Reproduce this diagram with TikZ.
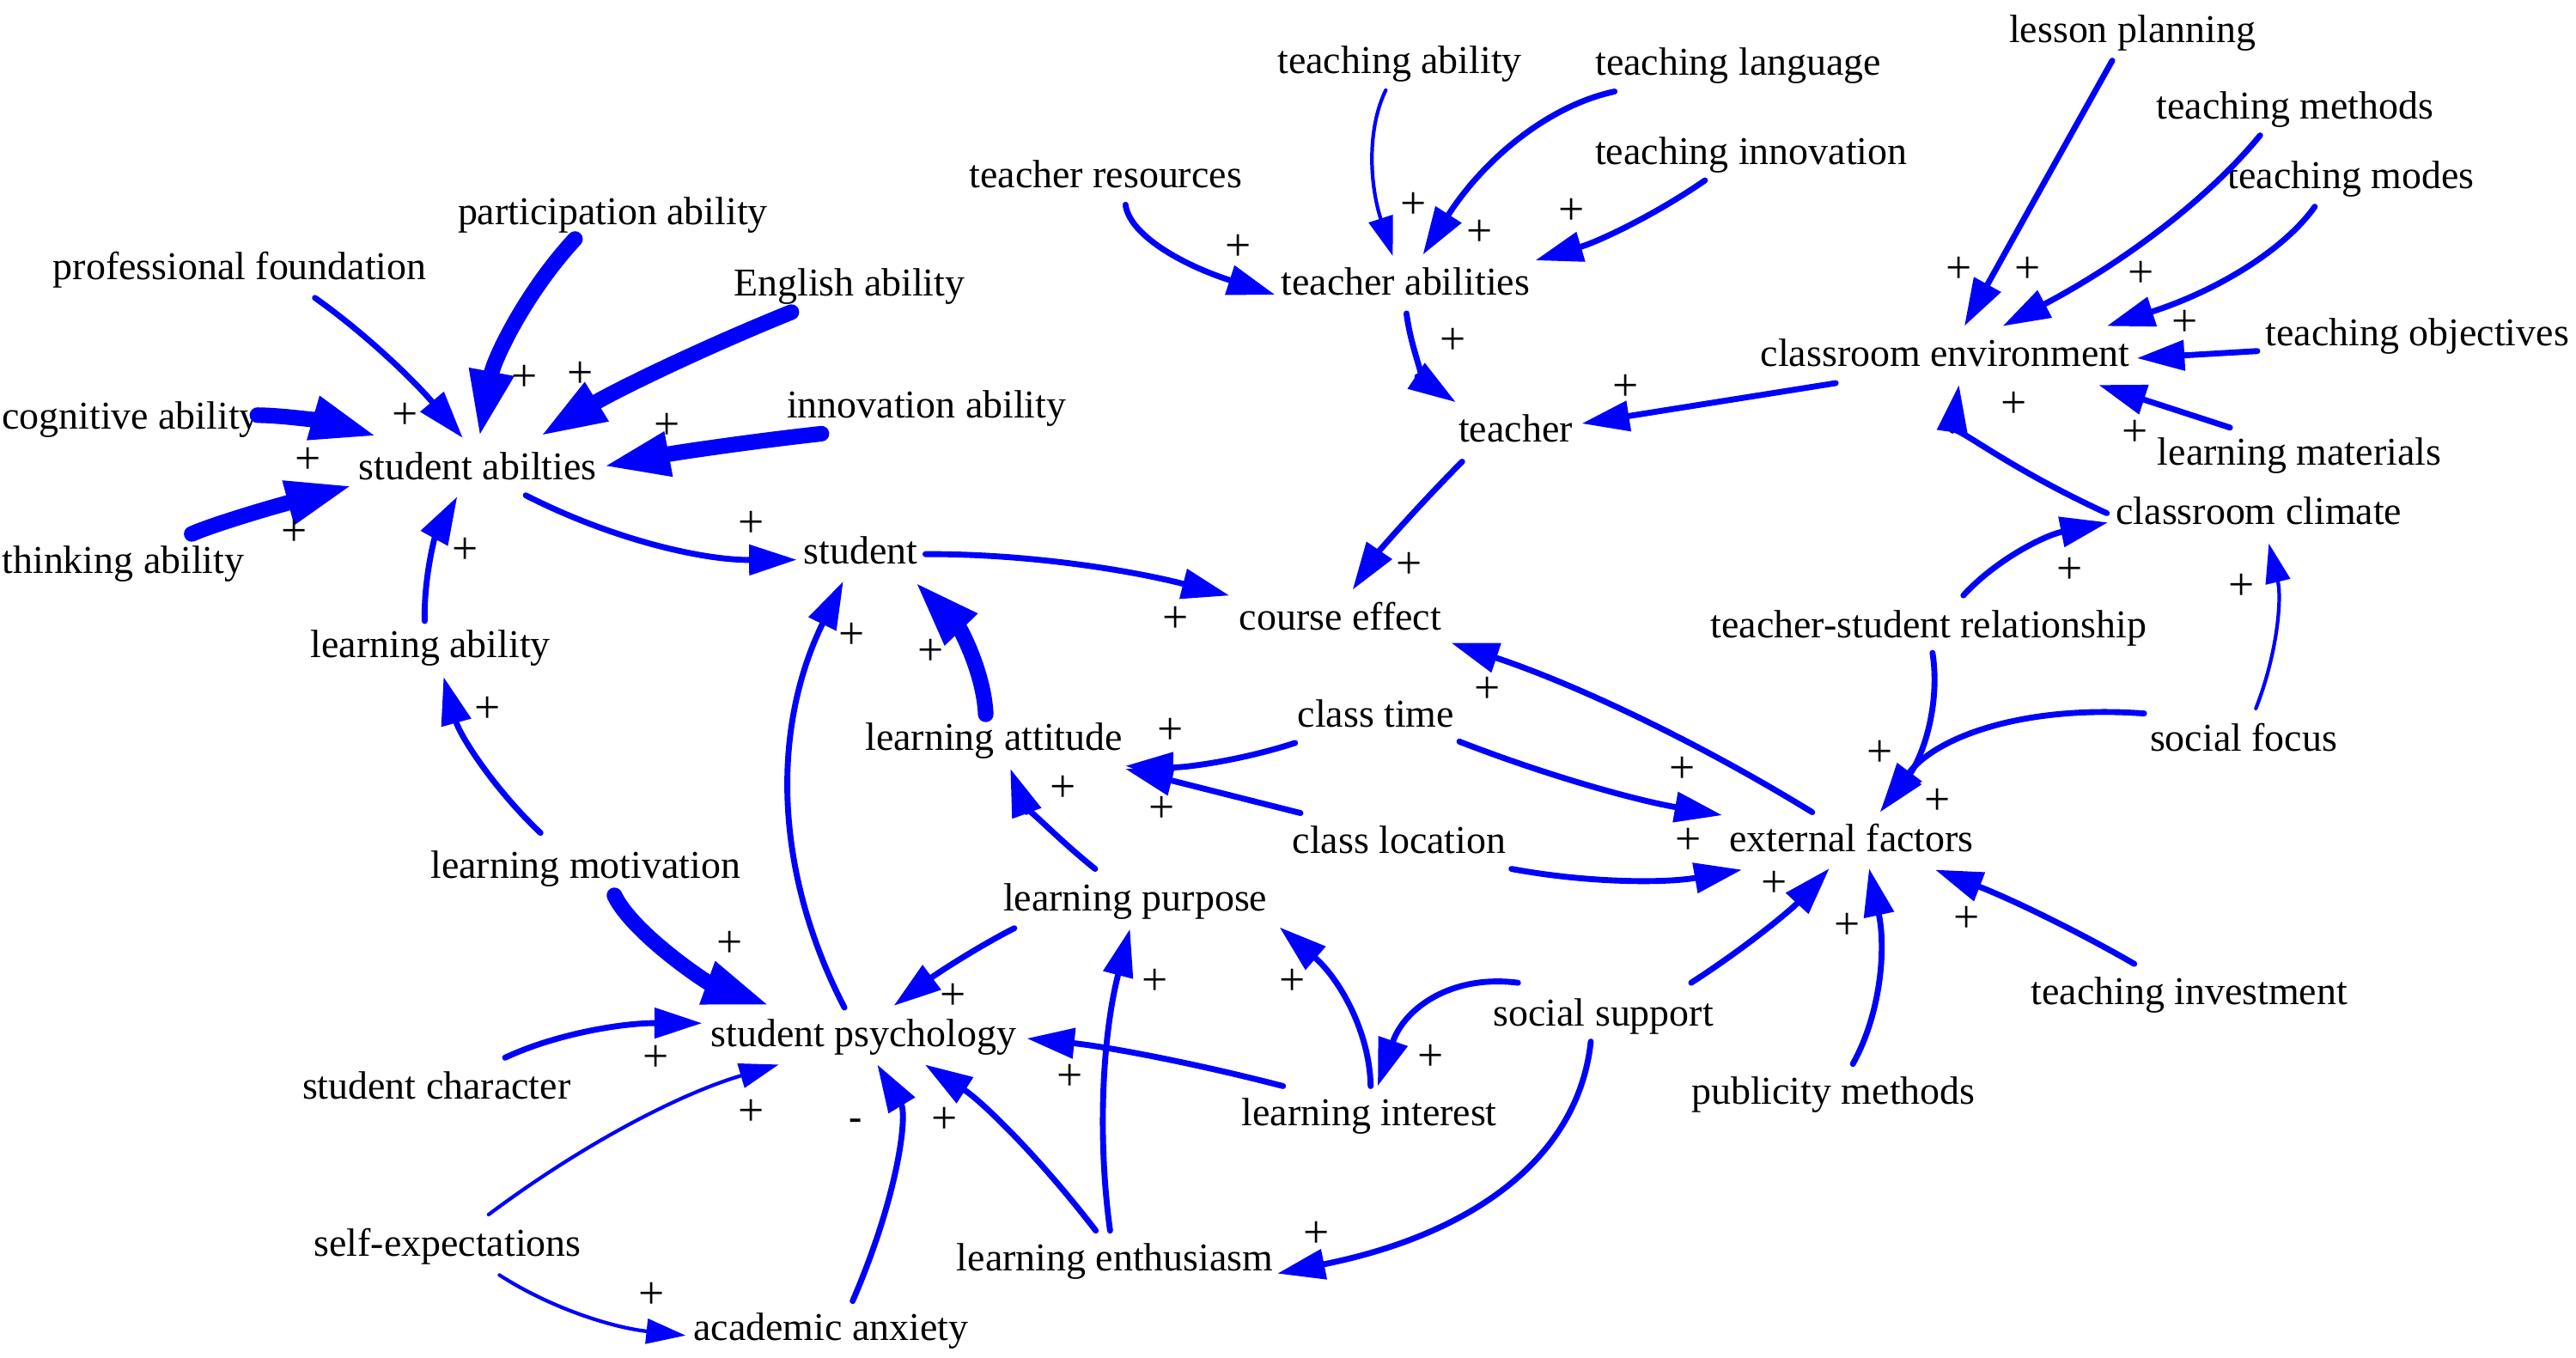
\documentclass[tikz,border=0pt]{standalone}
\usepackage{fontspec}
\setmainfont{Liberation Serif}
\usetikzlibrary{arrows.meta,calc}
\definecolor{lkblue}{RGB}{0,0,255}
\tikzset{
  lab/.style={font=\fontsize{24}{28}\selectfont, inner sep=0pt, anchor=base},
  sgn/.style={font=\fontsize{28}{32}\selectfont, inner sep=0pt},
  lk/.style={draw=lkblue, line cap=round},
  thinl/.style={lk, line width=2.2pt, -{Triangle[length=24pt,width=15pt]}},
  medl/.style={lk, line width=3.6pt, -{Triangle[length=29pt,width=18pt]}},
  thickl/.style={lk, line width=9.5pt, -{Triangle[length=41pt,width=25pt]}}
}
\begin{document}
\begin{tikzpicture}[x=1pt,y=-1pt]
\useasboundingbox (0,0) rectangle (1568,826.1);
% nodes
\node[lab] (lp) at (1298,26) {lesson planning};
\node[lab] (tab) at (852,44.5) {teaching ability};
\node[lab] (tl) at (1058,46) {teaching language};
\node[lab] (tm) at (1397,72.5) {teaching methods};
\node[lab] (ti) at (1066,100) {teaching innovation};
\node[lab] (tr) at (673,114) {teacher resources};
\node[lab] (tmo) at (1431,115) {teaching modes};
\node[lab] (pa) at (373,136.5) {participation ability};
\node[lab] (pf) at (146,170) {professional foundation};
\node[lab] (tea) at (855.5,179.5) {teacher abilities};
\node[lab] (ea) at (517,180) {English ability};
\node[lab] (to) at (1471.4,210.4) {teaching objectives};
\node[lab] (ce) at (1184,223) {classroom environment};
\node[lab] (ia) at (564,254.5) {innovation ability};
\node[lab] (ca) at (79.5,261.4) {cognitive ability};
\node[lab] (t) at (922.5,269) {teacher};
\node[lab] (lm) at (1399.6,283) {learning materials};
\node[lab] (sa) at (290.8,292) {student abilties};
\node[lab] (cc) at (1375,319) {classroom climate};
\node[lab] (tha) at (75,349) {thinking ability};
\node[lab] (st) at (524,343) {student};
\node[lab] (coe) at (815.8,383.4) {course effect};
\node[lab] (tsr) at (1174,388) {teacher-student relationship};
\node[lab] (la) at (262,400) {learning ability};
\node[lab] (ct) at (837.5,442.6) {class time};
\node[lab] (lat) at (605,456.6) {learning attitude};
\node[lab] (sf) at (1365.7,457) {social focus};
\node[lab] (cl) at (851.7,519.3) {class location};
\node[lab] (ef) at (1127,518.4) {external factors};
\node[lab] (lmo) at (356.4,534.5) {learning motivation};
\node[lab] (lpu) at (691,554.7) {learning purpose};
\node[lab] (tinv) at (1332.6,611.2) {teaching investment};
\node[lab] (ss) at (976,624.3) {social support};
\node[lab] (sp) at (525.7,637) {student psychology};
\node[lab] (sc) at (265.7,669) {student character};
\node[lab] (pm) at (1115.9,672.1) {publicity methods};
\node[lab] (li) at (833.5,685.3) {learning interest};
\node[lab] (se) at (272.4,764.6) {self-expectations};
\node[lab] (le) at (678.7,773.3) {learning enthusiasm};
\node[lab] (aa) at (505.7,816) {academic anxiety};
% connectors
\draw[medl] ($(lp.base)+(-12.3,10.9)$) .. controls (1262.4,78.5) and (1232.4,132.4) .. ($(ce.base)+(11.7,-24.5)$);
\draw[medl] ($(tm.base)+(-21.3,9.9)$) .. controls (1343.5,121.8) and (1291.3,160.5) .. ($(ce.base)+(35,-24.5)$);
\draw[medl] ($(tmo.base)+(-22,10.8)$) .. controls (1389.1,153.7) and (1346.9,177.9) .. ($(ce.base)+(98.4,-24.5)$);
\draw[medl] ($(to.base)+(-97.4,3.3)$) -- ($(ce.base)+(116.7,-5)$);
\draw[medl] ($(lm.base)+(-42.2,-22.7)$) -- ($(ce.base)+(93.4,11.3)$);
\draw[medl] ($(cc.base)+(-92.6,-6.6)$) .. controls (1219.1,283.4) and (1189.1,257.3) .. ($(ce.base)+(8.4,11.3)$);
\draw[medl] ($(ce.base)+(-66.6,10.2)$) -- ($(t.base)+(40.3,-11.2)$);
\draw[thinl] ($(tab.base)+(-8.5,10.4)$) .. controls (832.1,78.2) and (833.5,111.8) .. ($(tea.base)+(-7.7,-23.6)$);
\draw[medl] ($(tl.base)+(-75.2,9.7)$) .. controls (941.7,64.5) and (902.8,97.6) .. ($(tea.base)+(10.6,-24.5)$);
\draw[medl] ($(ti.base)+(-28.2,9.8)$) .. controls (1007.8,130.6) and (973.4,146.9) .. ($(tea.base)+(79,-21)$);
\draw[medl] ($(tr.base)+(12.1,10.6)$) .. controls (687.3,142.3) and (717.6,160.6) .. ($(tea.base)+(-79.4,-0.1)$);
\draw[medl] ($(tea.base)+(0.6,11.3)$) .. controls (859.4,215.7) and (869.4,233.7) .. ($(t.base)+(-36.4,-24.2)$);
\draw[medl] ($(t.base)+(-32.5,12)$) .. controls (861,310.2) and (838.8,336.2) .. ($(coe.base)+(7.5,-24.4)$);
\draw[thickl] ($(pa.base)+(-23,9)$) .. controls (320.1,177.8) and (300.7,218.2) .. ($(sa.base)+(0.9,-25.4)$);
\draw[medl] ($(pf.base)+(45.7,11.3)$) .. controls (220.8,201.8) and (250.8,230.2) .. ($(sa.base)+(-9.1,-25.4)$);
\draw[thickl] ($(ea.base)+(-35.3,10)$) .. controls (423.9,213.4) and (372.8,238.7) .. ($(sa.base)+(37.5,-26.2)$);
\draw[thickl] ($(ia.base)+(-64,9.5)$) .. controls (455.5,268.9) and (411.1,275.6) .. ($(sa.base)+(75.9,-8)$);
\draw[thickl] ($(ca.base)+(77.2,-8.7)$) .. controls (176.7,253) and (201.1,257.4) .. ($(sa.base)+(-60.8,-26.3)$);
\draw[thickl] ($(tha.base)+(41.7,-24)$) .. controls (128.3,319.8) and (161.1,309.9) .. ($(sa.base)+(-75.8,3.4)$);
\draw[medl] ($(la.base)+(-3.5,-22)$) .. controls (257.9,352.6) and (264.5,327.3) .. ($(sa.base)+(-12.5,10.3)$);
\draw[medl] ($(sa.base)+(29.2,9.5)$) .. controls (371.7,327.9) and (426.7,341) .. ($(st.base)+(-39,-2.3)$);
\draw[medl] ($(st.base)+(39.3,-5.7)$) .. controls (619.4,337) and (681,345.4) .. ($(coe.base)+(-67.5,-20.9)$);
\draw[thickl] ($(lat.base)+(-5,-21.8)$) .. controls (598.9,409.5) and (584.4,382.5) .. ($(st.base)+(32.6,10.8)$);
\draw[medl] ($(sp.base)+(-11.7,-23.7)$) .. controls (470.2,528.7) and (470,442.2) .. ($(st.base)+(-10.7,10.8)$);
\draw[medl] ($(lmo.base)+(-27.4,-27.5)$) .. controls (299.3,478.7) and (279.7,447) .. ($(la.base)+(8,12)$);
\draw[thickl] ($(lmo.base)+(17.6,10.5)$) .. controls (385,568) and (430,598) .. ($(sp.base)+(-56.7,-24.8)$);
\draw[medl] ($(ct.base)+(-49.2,9.6)$) .. controls (756.1,462.7) and (721.6,467.4) .. ($(lat.base)+(80,9.6)$);
\draw[medl] ($(cl.base)+(-60.1,-24.4)$) -- ($(lat.base)+(80,11.4)$);
\draw[medl] ($(lpu.base)+(-24.4,-25.8)$) .. controls (639,506.7) and (621.8,486.4) .. ($(lat.base)+(10,11.3)$);
\draw[medl] ($(ef.base)+(-23.9,-24)$) .. controls (1032.2,450.9) and (959,416.5) .. ($(coe.base)+(67.5,7.9)$);
\draw[medl] ($(ct.base)+(50.8,8.8)$) .. controls (941.2,471.9) and (994.6,486.9) .. ($(ef.base)+(-78.7,-22.2)$);
\draw[medl] ($(cl.base)+(68.3,9.6)$) .. controls (966.6,537.5) and (1013.3,537.7) .. ($(ef.base)+(-66.7,11)$);
\draw[medl] ($(tsr.base)+(21.1,-25.6)$) .. controls (1215,340.7) and (1244.3,325.9) .. ($(cc.base)+(-91.9,-1)$);
\draw[thinl] ($(sf.base)+(7.4,-25.7)$) .. controls (1386.3,397.7) and (1389,364.2) .. ($(cc.base)+(6,11.8)$);
\draw[medl] ($(tsr.base)+(2.3,9.4)$) .. controls (1181.2,428.5) and (1170.6,460.9) .. ($(ef.base)+(17.3,-24)$);
\draw[medl] ($(sf.base)+(-60.6,-22.7)$) .. controls (1231.7,428.9) and (1178.3,448.6) .. ($(ef.base)+(18,-25.2)$);
\draw[medl] ($(ss.base)+(53.4,-26.1)$) .. controls (1062.2,577.1) and (1090.2,553.9) .. ($(ef.base)+(-13.5,10.2)$);
\draw[medl] ($(pm.base)+(11.9,-24.5)$) .. controls (1144.8,617.1) and (1148.1,577.5) .. ($(ef.base)+(10.7,10.2)$);
\draw[medl] ($(tinv.base)+(-33.5,-24.5)$) .. controls (1262,565.3) and (1221.6,546.2) .. ($(ef.base)+(50.9,11)$);
\draw[medl] ($(ss.base)+(-52,-26.1)$) .. controls (883.1,593) and (854.7,613.9) .. ($(li.base)+(5.1,-24.2)$);
\draw[medl] ($(ss.base)+(-7.7,9.7)$) .. controls (960.8,704.3) and (897.2,751.3) .. ($(le.base)+(98.8,1.9)$);
\draw[medl] ($(lpu.base)+(-73.6,10.3)$) .. controls (596,575.9) and (571.5,591.7) .. ($(sp.base)+(18.3,-24.8)$);
\draw[medl] ($(li.base)+(0.8,-24.2)$) .. controls (833.7,627.9) and (815.2,595.6) .. ($(lpu.base)+(87.8,9.7)$);
\draw[medl] ($(li.base)+(-52.5,-24.2)$) .. controls (725,646.6) and (673,637) .. ($(sp.base)+(99.3,-4.9)$);
\draw[medl] ($(le.base)+(-11.7,-24.2)$) .. controls (632.3,704) and (597.7,670.3) .. ($(sp.base)+(37.3,11)$);
\draw[medl] ($(le.base)+(-3,-24.2)$) .. controls (667.5,689.1) and (671.6,627.9) .. ($(lpu.base)+(-3.2,10.7)$);
\draw[medl] ($(sc.base)+(41.7,-25.2)$) .. controls (337.5,629.7) and (377.5,622.7) .. ($(sp.base)+(-98.3,-14.2)$);
\draw[thinl] ($(se.base)+(25,-25.3)$) .. controls (355.3,696) and (414.2,665.6) .. ($(sp.base)+(-51.7,11)$);
\draw[thinl] ($(se.base)+(31.6,11.5)$) .. controls (334.2,795.7) and (372,808) .. ($(aa.base)+(-88.3,-3.1)$);
\draw[medl] ($(aa.base)+(13.3,-24.1)$) .. controls (547.3,726.4) and (552.3,678.4) .. ($(sp.base)+(8.3,11)$);
% polarity signs
\node[sgn] (s1) at (1192.4,164.2) {+};
\node[sgn] (s2) at (1234,164.2) {+};
\node[sgn] (s3) at (1303,167) {+};
\node[sgn] (s4) at (1329.7,196.7) {+};
\node[sgn] (s5) at (1225.7,246.6) {+};
\node[sgn] (s6) at (1299.7,263.6) {+};
\node[sgn] (s7) at (989.5,236.1) {+};
\node[sgn] (s8) at (860.5,125.1) {+};
\node[sgn] (s9) at (900.5,142) {+};
\node[sgn] (s10) at (956.8,128.6) {+};
\node[sgn] (s11) at (753.8,150.7) {+};
\node[sgn] (s12) at (884.5,207.8) {+};
\node[sgn] (s13) at (857.6,344.2) {+};
\node[sgn] (s14) at (319.3,230) {+};
\node[sgn] (s15) at (353.3,228.3) {+};
\node[sgn] (s16) at (246.7,253) {+};
\node[sgn] (s17) at (406,259.7) {+};
\node[sgn] (s18) at (187.3,280.6) {+};
\node[sgn] (s19) at (179,324.1) {+};
\node[sgn] (s20) at (283.3,335.4) {+};
\node[sgn] (s21) at (457.3,319.3) {+};
\node[sgn] (s22) at (715.6,377.3) {+};
\node[sgn] (s23) at (566.6,397) {+};
\node[sgn] (s24) at (518.3,386.9) {+};
\node[sgn] (s25) at (712.3,444.9) {+};
\node[sgn] (s26) at (707.3,492.8) {+};
\node[sgn] (s27) at (647.3,480.1) {+};
\node[sgn] (s28) at (905.6,420) {+};
\node[sgn] (s29) at (1023.9,468.7) {+};
\node[sgn] (s30) at (1027.9,511.9) {+};
\node[sgn] (s31) at (1079.9,538.3) {+};
\node[sgn] (s32) at (1124.3,563.8) {+};
\node[sgn] (s33) at (1197.1,559.8) {+};
\node[sgn] (s34) at (1144.3,458.9) {+};
\node[sgn] (s35) at (1179.5,488) {+};
\node[sgn] (s36) at (1259.9,347.2) {+};
\node[sgn] (s37) at (1364.3,357.2) {+};
\node[sgn] (s38) at (297,432) {+};
\node[sgn] (s39) at (444,575) {+};
\node[sgn] (s40) at (580,606.5) {+};
\node[sgn] (s41) at (399,644.4) {+};
\node[sgn] (s42) at (457.4,677.4) {+};
\node[sgn,font=\fontsize{24}{28}\selectfont\bfseries] (s43) at (520.7,684.3) {-};
\node[sgn] (s44) at (574.7,682.2) {+};
\node[sgn] (s45) at (651,655.9) {+};
\node[sgn] (s46) at (703,597.9) {+};
\node[sgn] (s47) at (786.6,597.9) {+};
\node[sgn] (s48) at (870.7,643.7) {+};
\node[sgn] (s49) at (801.4,751.6) {+};
\node[sgn] (s50) at (396.4,788.7) {+};
\end{tikzpicture}
\end{document}
